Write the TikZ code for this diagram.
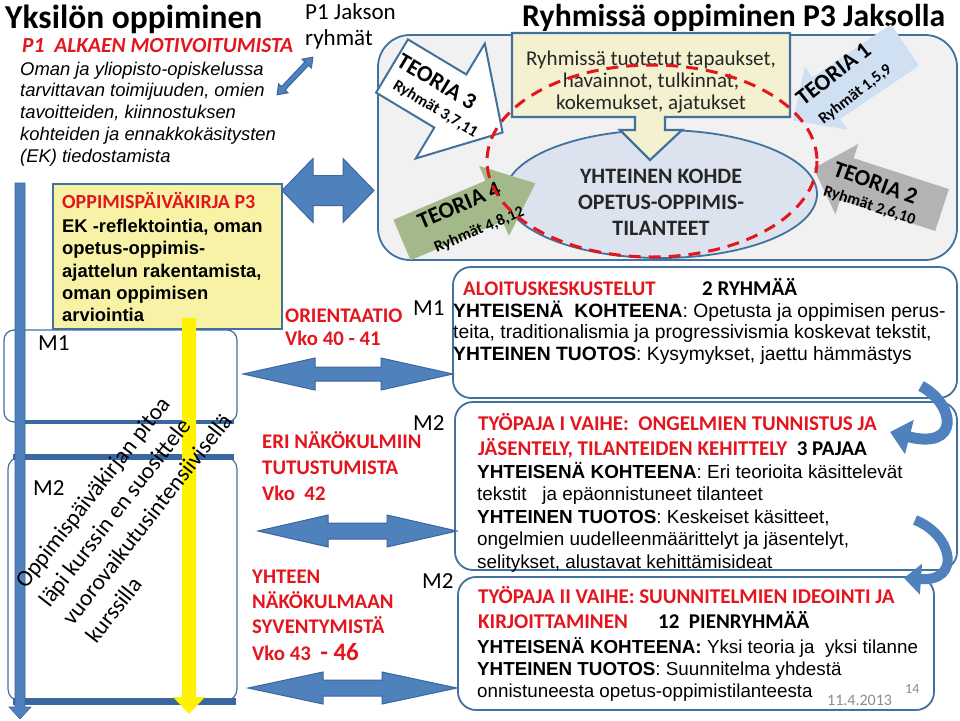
\documentclass[tikz,border=0pt]{standalone}
\usepackage{graphicx}
\usepackage{fontspec}
\setmainfont{Carlito}
\newfontfamily\ari{Liberation Sans}
\usetikzlibrary{arrows.meta,shapes.geometric}
\definecolor{bfill}{HTML}{4F81BD}
\definecolor{bdraw}{HTML}{3A67A0}
\definecolor{boxline}{HTML}{41719C}
\definecolor{redtxt}{HTML}{E3161E}
\definecolor{ylw}{HTML}{F8F2A6}
\definecolor{cally}{HTML}{F4F1D0}
\definecolor{grp}{HTML}{F1F1F1}
\definecolor{ellf}{HTML}{DCE3EE}
\definecolor{grn}{HTML}{A4B989}
\definecolor{gry}{HTML}{B3B3B3}
\definecolor{lbl}{HTML}{CFE0F3}
\definecolor{dgray}{HTML}{262626}
\definecolor{dategray}{HTML}{8C8C8C}
\newcommand\fsz[2]{\fontsize{#1}{#2}\selectfont}
\newcounter{tlc}
\newcommand\tl[4][]{\stepcounter{tlc}\node[anchor=base west,inner sep=0pt,#1] (tl\thetlc) at (#2,#3) {#4};}
\newcommand\blkarrow[7]{%
  \begin{scope}[shift={#2},rotate=#3]
  \path[#1] (0,-#5) -- ({#4-#6},-#5) -- ({#4-#6},-#7) -- (#4,0) -- ({#4-#6},#7) -- ({#4-#6},#5) -- (0,#5) -- cycle;
  \end{scope}}
\newcommand\dblarrow[7]{%
  \begin{scope}[shift={#2},rotate=#3]
  \path[#1] (-#4,0) -- ({-#4+#6},-#7) -- ({-#4+#6},-#5) -- ({#4-#6},-#5) -- ({#4-#6},-#7) -- (#4,0) -- ({#4-#6},#7) -- ({#4-#6},#5) -- ({-#4+#6},#5) -- ({-#4+#6},#7) -- cycle;
  \end{scope}}
\begin{document}
\begin{tikzpicture}[x=1pt,y=-1pt,
  arr/.style={fill=bfill,draw=bdraw,line width=1pt},
  rbox/.style={draw=boxline,line width=1.8pt,rounded corners=18pt},
  rh/.style={font=\fsz{20.8}{25}\bfseries,text=redtxt},
  rt/.style={font=\fsz{21}{25}\bfseries,text=redtxt},
  bh/.style={font=\fsz{21}{25}\bfseries},
  ar/.style={font=\ari\fsz{18.9}{22}},
  ar2/.style={font=\ari\fsz{18.8}{22}},
  mlab/.style={font=\fsz{23}{27}},
  dtext/.style={font=\fsz{23.3}{28},rotate=52},
  teo/.style={font=\fsz{23}{27}\bfseries,anchor=base,inner sep=0pt},
  ryh/.style={font=\fsz{16}{19}\bfseries,anchor=base,inner sep=0pt}]
\useasboundingbox (0,0) rectangle (960,720);
\fill[white] (0,0) rectangle (960,720);

% ---------- left column ----------
\tl{5}{28}{\fsz{33.5}{36}\bfseries Yksilön oppiminen}
\tl[text=redtxt]{22}{52}{\fsz{21.5}{25}\bfseries\itshape P1\ \ ALKAEN MOTIVOITUMISTA}
\tl[font=\ari\fsz{18.4}{22}\itshape]{20}{75}{Oman ja yliopisto-opiskelussa}
\tl[font=\ari\fsz{18.4}{22}\itshape]{20}{96.8}{tarvittavan toimijuuden, omien}
\tl[font=\ari\fsz{18.4}{22}\itshape]{20}{118.6}{tavoitteiden, kiinnostuksen}
\tl[font=\ari\fsz{18.4}{22}\itshape]{20}{140.4}{kohteiden ja ennakkokäsitysten}
\tl[font=\ari\fsz{18.4}{22}\itshape]{20}{162.2}{(EK) tiedostamista}

% M1 and M2 boxes
\draw[boxline,line width=1.2pt,rounded corners=10pt] (4,330) rectangle (237,422);
\draw[bdraw,line width=3.5pt] (15,422) -- (234,422);
\draw[boxline,line width=1.2pt,rounded corners=12pt] (8,457) rectangle (237,701);
\draw[bdraw,line width=6pt] (13,457) -- (234,457);
\draw[bdraw,line width=7pt] (13,701) -- (236,701);
\tl[mlab]{38}{350}{M1}
\tl[mlab]{33}{495}{M2}

% yellow diary box
\node[draw=boxline,fill=ylw,line width=1.5pt,minimum width=229pt,minimum height=145pt,anchor=north west,inner sep=0pt] (diary) at (52,183) {};
\tl[text=redtxt,font=\fsz{20}{24}\bfseries]{62}{208}{OPPIMISPÄIVÄKIRJA P3}
\tl[font=\ari\fsz{18.4}{22}\bfseries]{62}{232}{EK -reflektointia, oman}
\tl[font=\ari\fsz{18.4}{22}\bfseries]{62}{254.5}{opetus-oppimis-}
\tl[font=\ari\fsz{18.4}{22}\bfseries]{62}{277}{ajattelun rakentamista,}
\tl[font=\ari\fsz{18.4}{22}\bfseries]{62}{299}{oman oppimisen}
\tl[font=\ari\fsz{18.4}{22}\bfseries]{62}{321}{arviointia}

% vertical blue bar and yellow arrow
\path[fill=bfill,draw=bdraw,line width=0.6pt] (15,183) -- (25,183) -- (25,707) -- (31,707) -- (20,719) -- (9,707) -- (15,707) -- cycle;
\path[fill=yellow] (182,318) -- (196,318) -- (196,697) -- (205,697) -- (189,714) -- (173,697) -- (182,697) -- cycle;

% rotated diary remark (left aligned lines)
\tl[dtext]{26}{590}{Oppimispäiväkirjan pitoa}
\tl[dtext]{49.4}{608.3}{läpi kurssin en suosittele}
\tl[dtext]{72.8}{626.6}{vuorovaikutusintensiivisellä}
\tl[dtext]{96.2}{644.9}{kurssilla}

% ---------- middle column ----------
\tl[mlab]{305}{19}{P1 Jakson}
\tl[mlab]{305}{45}{ryhmät}
\dblarrow{arr}{(295,76)}{46.5}{26}{2.5}{9}{6.5}
\dblarrow{arr}{(328,190.5)}{0}{46}{15}{31}{32}

\tl[rh]{285}{322}{ORIENTAATIO}
\tl[rh]{285}{345}{Vko 40 - 41}
\tl[mlab]{413}{315}{M1}
\tl[rh]{262}{448}{ERI NÄKÖKULMIIN}
\tl[rh]{262}{474}{TUTUSTUMISTA}
\tl[rh]{262}{500}{Vko\ \ 42}
\tl[mlab]{413}{430}{M2}
\tl[rh]{252}{583}{YHTEEN}
\tl[rh]{252}{608}{NÄKÖKULMAAN}
\tl[rh]{252}{633}{SYVENTYMISTÄ}
\tl[rh]{252}{660}{Vko 43\ \ {\fsz{25}{28}\bfseries - 46}}
\tl[mlab]{422}{588}{M2}

% ---------- group area ----------
\tl{522}{27}{\fsz{31.7}{34}\bfseries Ryhmissä oppiminen P3 Jaksolla}
\draw[rbox,fill=grp,rounded corners=32pt] (378,35) rectangle (957,260);
\node[ellipse,draw=boxline,fill=ellf,line width=1.8pt,minimum width=312pt,minimum height=128pt,inner sep=0pt] (kohde) at (661,194) {};
\path[fill=cally,draw=boxline,line width=2.2pt] (512,33) -- (790,33) -- (790,117) -- (665,117) -- (665,130) -- (682,130) -- (650,160) -- (620,130) -- (635,130) -- (635,117) -- (512,117) -- cycle;
\tl[anchor=base,font=\fsz{21}{24},text=dgray]{651}{65}{Ryhmissä tuotetut tapaukset,}
\tl[anchor=base,font=\fsz{21}{24},text=dgray]{651}{87}{havainnot, tulkinnat,}
\tl[anchor=base,font=\fsz{21}{24},text=dgray]{651}{109}{kokemukset, ajatukset}
\tl[anchor=base,font=\fsz{22}{26}\bfseries,text=dgray]{661}{183}{YHTEINEN KOHDE}
\tl[anchor=base,font=\fsz{22}{26}\bfseries,text=dgray]{661}{209}{OPETUS-OPPIMIS-}
\tl[anchor=base,font=\fsz{22}{26}\bfseries,text=dgray]{661}{235}{TILANTEET}

% theory arrows
\blkarrow{fill=white,draw=boxline,line width=2pt}{(392,66)}{-31}{129}{31}{61}{67}
\node[teo,rotate=-31] (t3) at (433,88) {TEORIA 3};
\node[ryh,rotate=-31] (r3) at (433,113) {Ryhmät 3,7,11};
\blkarrow{fill=grn}{(402,240)}{23}{145}{22}{45}{38}
\node[teo,rotate=23] (t4) at (462,212) {TEORIA 4};
\node[ryh,rotate=23] (r4) at (481,234) {Ryhmät 4,8,12};
\blkarrow{fill=lbl}{(905,45)}{214}{135}{25}{40}{38}
\node[teo,rotate=38] (t1) at (838,80) {TEORIA 1};
\node[ryh,rotate=38] (r1) at (858,98) {Ryhmät 1,5,9};
\blkarrow{fill=gry}{(942,210)}{162}{135}{22}{35}{37}
\node[teo,rotate=-20] (t2) at (873,190) {TEORIA 2};
\node[ryh,rotate=-18] (r2) at (868,210) {Ryhmät 2,6,10};

\draw[redtxt,line width=3pt,dash pattern=on 12pt off 8pt] (652,161) ellipse [x radius=165, y radius=96];

% ---------- right boxes ----------
\draw[rbox] (453,267) rectangle (957,398);
\tl[rh]{463}{295}{ALOITUSKESKUSTELUT}
\tl[bh]{702}{295}{2 RYHMÄÄ}
\tl[font=\ari\fsz{19.3}{22}]{453}{317}{\textbf{YHTEISENÄ\ \ KOHTEENA}: Opetusta ja oppimisen perus-}
\tl[font=\ari\fsz{19.3}{22}]{453}{338.5}{teita, traditionalismia ja progressivismia koskevat tekstit,}
\tl[font=\ari\fsz{19.3}{22}]{453}{360}{\textbf{YHTEINEN TUOTOS}: Kysymykset, jaettu hämmästys}

\draw[rbox] (455,402) rectangle (957,570);
\tl[rt]{478}{430}{TYÖPAJA I VAIHE:\ \ ONGELMIEN TUNNISTUS JA}
\tl[rt]{478}{455}{JÄSENTELY, TILANTEIDEN KEHITTELY\ \ {\color{black}3 PAJAA}}
\tl[ar]{477}{478}{\textbf{YHTEISENÄ KOHTEENA}: Eri teorioita käsittelevät}
\tl[ar]{477}{500.5}{tekstit\ \ \ ja epäonnistuneet tilanteet}
\tl[ar]{477}{523}{\textbf{YHTEINEN TUOTOS}: Keskeiset käsitteet,}
\tl[ar]{477}{545.5}{ongelmien uudelleenmäärittelyt ja jäsentelyt,}
\tl[ar]{477}{568}{selitykset, alustavat kehittämisideat}

\draw[rbox] (458,577) rectangle (934,710);
\tl[rt]{478}{603}{TYÖPAJA II VAIHE: SUUNNITELMIEN IDEOINTI JA}
\tl[rt]{478}{628}{KIRJOITTAMINEN}
\tl[bh]{658}{628}{12\ \ PIENRYHMÄÄ}
\tl[ar2]{477}{653}{\textbf{YHTEISENÄ KOHTEENA:} Yksi teoria ja\ \ yksi tilanne}
\tl[ar2]{477}{675}{\textbf{YHTEINEN TUOTOS}: Suunnitelma yhdestä}
\tl[ar2]{477}{697}{onnistuneesta opetus-oppimistilanteesta}
\tl[font=\fsz{16}{18},text=dategray]{827}{705}{11.4.2013}
\tl[font=\fsz{14}{16},text=dategray]{905}{693}{14}

% middle double arrows
\dblarrow{arr}{(348,374)}{0}{105}{7}{72}{16}
\dblarrow{arr}{(357.5,531)}{0}{99.5}{8}{70}{16}
\dblarrow{arr}{(352.5,688)}{0}{104.5}{8}{75}{16}

% curved arrows on the right
\coordinate (ca1) at (921,386);
\coordinate (ca2) at (890,432);
\draw[bfill,line width=11pt,-{Triangle[length=20pt,width=34pt]}] (ca1) .. controls (956,405) and (960,450) .. (ca2);
\coordinate (cb1) at (915,520);
\coordinate (cb2) at (904,578);
\draw[bfill,line width=10pt,-{Triangle[length=17pt,width=30pt]}] (cb1) .. controls (953,535) and (962,582) .. (cb2);
\end{tikzpicture}
\end{document}
